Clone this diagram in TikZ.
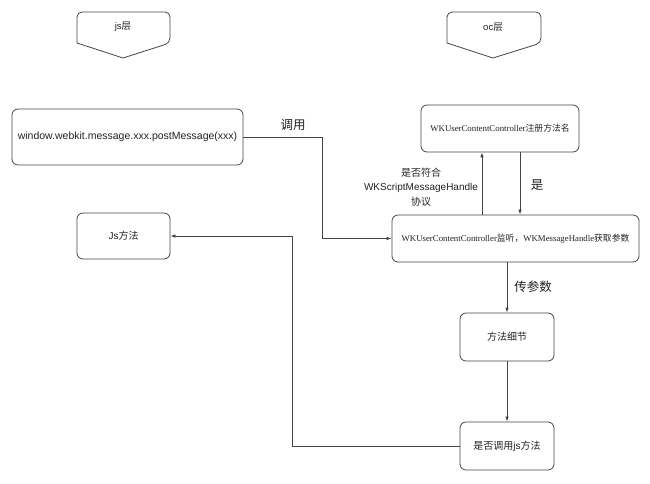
\documentclass[tikz,border=0pt]{standalone}
\usepackage{fontspec}
\setmainfont{Liberation Sans}
\newfontfamily\cjk{Noto Sans CJK SC}
\newfontfamily\serifw{Liberation Serif}
\usetikzlibrary{arrows.meta}
\definecolor{edge}{HTML}{444444}
\definecolor{txt}{HTML}{222222}
\begin{document}
\begin{tikzpicture}[x=1pt,y=-1pt,
  box/.style={draw=edge, line width=0.8pt, rounded corners=6pt, text=txt, align=center, inner sep=0pt},
  arr/.style={draw=edge, line width=0.8pt, -{Latex[length=5pt,width=3.5pt]}},
  lbl/.style={text=txt, align=center, inner sep=0pt}]
\useasboundingbox (0,0) rectangle (650,483);
% header pentagons
\draw[edge, line width=0.8pt] (123,58) -- (77,43) [rounded corners=5pt] -- (77,12) -- (170,12) -- (170,43) [sharp corners] -- cycle;
\draw[edge, line width=0.8pt] (493,58) -- (447,43) [rounded corners=5pt] -- (447,12) -- (541,12) -- (541,43) [sharp corners] -- cycle;
\node[lbl, font=\fontsize{9.5}{11}\selectfont] (jsl) at (123,27) {js{\cjk 层}};
\node[lbl, font=\fontsize{9.5}{11}\selectfont] (ocl) at (493,27) {oc{\cjk 层}};
% boxes
\node[box, minimum width=231pt, minimum height=56pt, font=\fontsize{10.5}{12}\selectfont] (win) at (127.5,137) {window.webkit.message.xxx.postMessage(xxx)};
\node[box, minimum width=158pt, minimum height=47pt, font=\fontsize{8.8}{10}\selectfont] (reg) at (500,128.5) {\serifw WKUserContentController{\cjk 注册方法名}};
\node[box, minimum width=247pt, minimum height=47pt, font=\fontsize{8.8}{10}\selectfont] (wk) at (515.5,238.5) {\serifw WKUserContentController{\cjk 监听，}WKMessageHandle{\cjk 获取参数}};
\node[box, minimum width=93pt, minimum height=46pt, font=\fontsize{10}{11}\selectfont] (jsm) at (123.5,236) {Js{\cjk 方法}};
\node[box, minimum width=94pt, minimum height=48pt, font=\fontsize{10}{11}\selectfont] (det) at (507,337) {\cjk 方法细节};
\node[box, minimum width=94pt, minimum height=48pt, font=\fontsize{10}{11}\selectfont] (call) at (507,446) {{\cjk 是否调用}js{\cjk 方法}};
% labels
\node[lbl, font=\fontsize{12.5}{14}\selectfont] (l1) at (293,125) {\cjk 调用};
\node[lbl, font=\fontsize{10}{14.5}\selectfont] (l2) at (421,187) {{\cjk 是否符合}\\WKScriptMessageHandle\\{\cjk 协议}};
\node[lbl, font=\fontsize{12.5}{14}\selectfont] (l3) at (537,185) {\cjk 是};
\node[lbl, font=\fontsize{12.5}{14}\selectfont] (l4) at (533,287) {\cjk 传参数};
% connectors
\draw[arr] (win.east) -- (322,0 |- win.east) |- (wk.west);
\draw[arr] (482,0 |- wk.north) -- (482,0 |- reg.south);
\draw[arr] (520,0 |- reg.south) -- (520,0 |- wk.north);
\draw[arr] (det.north |- wk.south) -- (det.north);
\draw[arr] (det.south) -- (call.north);
\draw[arr] (call.west) -- (292,0 |- call.west) |- (jsm.east);
\end{tikzpicture}
\end{document}
